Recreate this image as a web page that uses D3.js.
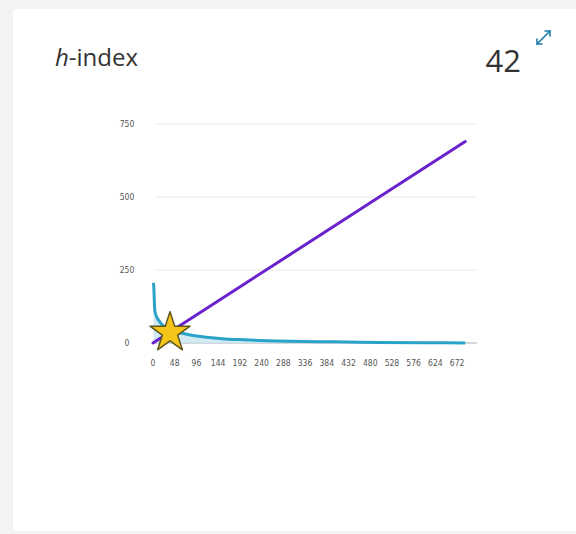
<!DOCTYPE html>
<html><head><meta charset="utf-8">
<script src="https://cdn.jsdelivr.net/npm/d3@7"></script>
<style>
html,body{margin:0;padding:0;background:#f3f3f3;}
svg{display:block;}
</style></head>
<body>
<svg id="c" width="576" height="534"></svg>
<script>
// Data
const hIndex = 42;
const paperCount = 690;
const ranks =     [1,   2,   3,   4,   6,  10, 15, 20, 30, 42, 60, 80, 100, 130, 160, 200, 250, 300, 400, 500, 600, 690];
const citations = [206, 185, 140, 112, 98, 84, 72, 63, 52, 43, 35, 28, 23,  18,  14,  11,  8,   6,   4,   2,   1,   0];
const yTicks = [0, 250, 500, 750];
const xTicks = [0,48,96,144,192,240,288,336,384,432,480,528,576,624,672];

const svg = d3.select("#c");
// card
svg.append("rect").attr("x",13).attr("y",9).attr("width",563).attr("height",522).attr("fill","#ffffff");

// header
const title = svg.append("text").attr("x",55).attr("y",66)
  .attr("font-family","'Open Sans', sans-serif").attr("font-size",24).attr("fill","#333");
title.append("tspan").attr("font-style","italic").text("h");
title.append("tspan").text("-index");
svg.append("text").attr("x",521).attr("y",72).attr("text-anchor","end")
  .attr("font-family","'Open Sans', sans-serif").attr("font-size",31).attr("fill","#333").text(String(hIndex));
// expand icon
const ic = svg.append("g").attr("stroke","#1d7ea6").attr("stroke-width",1.6).attr("fill","none").attr("stroke-linecap","round");
ic.append("path").attr("d","M537,44 L550,31");
ic.append("path").attr("d","M545,31 L550,31 L550,36");
ic.append("path").attr("d","M537,39 L537,44 L542,44");

const x = d3.scaleLinear().domain([0,716]).range([153,477]);
const y = d3.scaleLinear().domain([0,750]).range([343,124]);

// grid
svg.append("g").selectAll("line").data(yTicks).join("line")
  .attr("x1",155).attr("x2",477).attr("y1",d=>y(d)).attr("y2",d=>y(d))
  .attr("stroke",d=>d===0?"#d4d8dc":"#e8e8e8").attr("stroke-width",d=>d===0?2:1);

// y labels
svg.append("g").selectAll("text").data(yTicks).join("text")
  .attr("x",127).attr("y",d=>y(d)+3).attr("text-anchor","middle")
  .attr("font-family","'DejaVu Sans Condensed','DejaVu Sans', sans-serif").attr("font-size",8.5).attr("fill","#555").text(d=>d);
// x labels
svg.append("g").selectAll("text").data(xTicks).join("text")
  .attr("x",d=>x(d)).attr("y",366).attr("text-anchor","middle")
  .attr("font-family","'DejaVu Sans Condensed','DejaVu Sans', sans-serif").attr("font-size",8.5).attr("fill","#555").text(d=>d);

const pts = ranks.map((r,i)=>[r,citations[i]]);
// area
svg.append("path").datum(pts)
  .attr("d", d3.area().x(d=>x(d[0])).y0(y(0)).y1(d=>y(d[1])).curve(d3.curveMonotoneX))
  .attr("fill","#c9e6f1").attr("opacity",0.85);
// citation line
svg.append("path").datum(pts)
  .attr("d", d3.line().x(d=>x(d[0])).y(d=>y(d[1])).curve(d3.curveMonotoneX))
  .attr("fill","none").attr("stroke","#2aa3c9").attr("stroke-width",3).attr("stroke-linejoin","round");
// y=x line
svg.append("line").attr("x1",x(0)).attr("y1",y(0)).attr("x2",x(paperCount)).attr("y2",y(paperCount))
  .attr("stroke","#6a22cc").attr("stroke-width",3).attr("stroke-linecap","round");

// star
const star = d3.symbol().type(d3.symbolStar).size(500);
svg.append("path").attr("d",star())
  .attr("transform",`translate(${x(hIndex)-2},${y(hIndex)+2})`)
  .attr("fill","#f6c51a").attr("stroke","#5f5520").attr("stroke-width",1.5).attr("stroke-linejoin","round");
</script>
</body></html>
